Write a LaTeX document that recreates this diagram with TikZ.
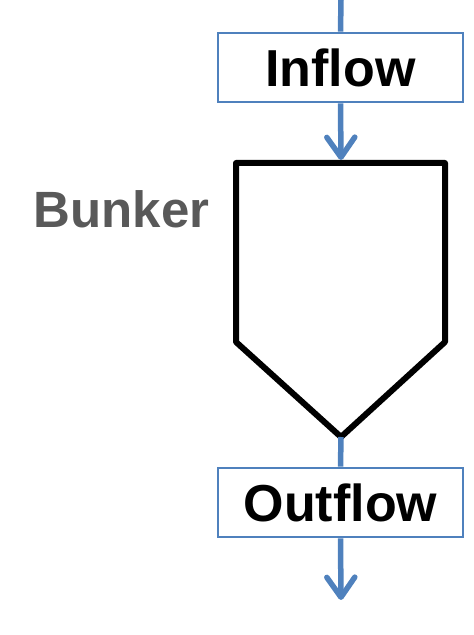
\documentclass[tikz,border=0pt]{standalone}
\usepackage{fontspec}
\setmainfont{Liberation Sans}
\usetikzlibrary{arrows.meta}
\definecolor{flowblue}{HTML}{4F81BD}
\definecolor{labelgray}{HTML}{595959}
\begin{document}
\begin{tikzpicture}[x=1pt,y=1pt,
  flowbox/.style={draw=flowblue, line width=2.6pt, fill=white, minimum width=245pt, minimum height=69pt, inner sep=0pt, font=\fontsize{52}{60}\selectfont\bfseries},
  flowline/.style={draw=flowblue, line width=5.5pt},
  flowarrow/.style={flowline, -{Straight Barb[length=20pt,width=28pt,line cap=round,line join=round]}},
  bunkerline/.style={draw=black, line width=6pt, line join=round}]
\useasboundingbox (0,0) rectangle (474,635);
\coordinate (topin) at (341,635);
\node[flowbox] (inflow) at (340.5,567.5) {Inflow};
\coordinate (btop) at (341,475);
\coordinate (bbot) at (341,198);
\draw[bunkerline] (236,472) -- (445,472) -- (445,293) -- (bbot) -- (236,293) -- cycle;
\node[anchor=base, text=labelgray, font=\fontsize{51}{60}\selectfont\bfseries] (bunker) at (121.5,407) {Bunker};
\node[flowbox] (outflow) at (340.5,132.5) {Outflow};
\coordinate (outend) at (341,35);
\draw[flowline] (topin) -- (inflow.north);
\draw[flowarrow] (inflow.south) -- (btop);
\draw[flowline] (bbot) -- (outflow.north);
\draw[flowarrow] (outflow.south) -- (outend);
\end{tikzpicture}
\end{document}
